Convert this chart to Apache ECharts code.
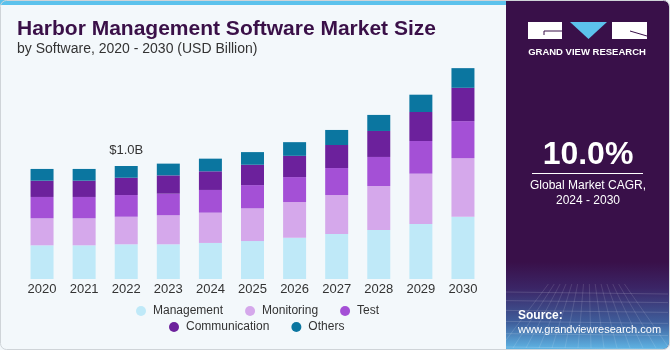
<!DOCTYPE html>
<html>
<head>
<meta charset="utf-8">
<script src="https://cdn.jsdelivr.net/npm/echarts@6/dist/echarts.min.js"></script>
<style>
  html, body { margin: 0; padding: 0; background: #fff; }
  #chart { width: 670px; height: 350px; }
</style>
</head>
<body>
<div id="chart"></div>
<script>
// values, USD billion
const years = ['2020', '2021', '2022', '2023', '2024', '2025', '2026', '2027', '2028', '2029', '2030'];
const management = [0.298, 0.298, 0.307, 0.307, 0.319, 0.336, 0.365, 0.398, 0.434, 0.487, 0.551];
const monitoring = [0.239, 0.239, 0.244, 0.257, 0.268, 0.289, 0.316, 0.345, 0.389, 0.445, 0.519];
const test = [0.189, 0.189, 0.192, 0.191, 0.201, 0.206, 0.221, 0.239, 0.257, 0.289, 0.327];
const communication = [0.144, 0.144, 0.153, 0.162, 0.165, 0.180, 0.188, 0.204, 0.230, 0.257, 0.295];
const others = [0.104, 0.104, 0.104, 0.104, 0.112, 0.112, 0.121, 0.133, 0.142, 0.153, 0.174];
const labelYear = '2022';

const FONT = '"Liberation Sans", Arial, sans-serif';
const panelBg = '#391049';

const myChart = echarts.init(document.getElementById('chart'));

const total = (i) => management[i] + monitoring[i] + test[i] + communication[i] + others[i];

const othersData = others.map((v, i) => {
  if (years[i] !== labelYear) return v;
  return {
    value: v,
    label: {
      show: true,
      position: 'top',
      distance: 9,
      formatter: () => '$' + total(i).toFixed(1) + 'B',
      color: '#333',
      fontSize: 13,
      fontFamily: FONT,
    },
  };
});

const makeSeries = (name, data, color) => ({
  name,
  type: 'bar',
  stack: 'total',
  data,
  barWidth: 23,
  itemStyle: { color },
});

// bottom texture of the side panel
const textureLines = [];
for (let k = 0; k < 7; k++) {
  const y = 292 + k * 8 + k * k * 0.6;
  textureLines.push({
    type: 'line',
    shape: { x1: 506, y1: y, x2: 668, y2: y + 2 },
    style: { stroke: 'rgba(255,255,255,0.14)', lineWidth: 1 },
    z: 5,
  });
}
for (let k = 0; k < 14; k++) {
  const x = 500 + k * 13;
  textureLines.push({
    type: 'line',
    shape: { x1: 588 + (x - 588) * 0.45, y1: 284, x2: x, y2: 348 },
    style: { stroke: 'rgba(255,255,255,0.12)', lineWidth: 1 },
    z: 5,
  });
}

const option = {
  backgroundColor: '#f3f8fb',
  title: {
    text: 'Harbor Management Software Market Size',
    subtext: 'by Software, 2020 - 2030 (USD Billion)',
    left: 17,
    top: 19,
    padding: 0,
    itemGap: 2,
    textStyle: { fontFamily: FONT, fontSize: 21, fontWeight: 'bold', color: '#3a1048' },
    subtextStyle: { fontFamily: FONT, fontSize: 14, color: '#333' },
  },
  legend: [
    {
      data: ['Management', 'Monitoring', 'Test'],
      left: 136,
      top: 305,
      padding: 0,
      icon: 'circle',
      itemWidth: 10,
      itemHeight: 10,
      itemGap: 22,
      textStyle: { fontFamily: FONT, fontSize: 12, color: '#333', padding: [0, 0, 0, 2] },
    },
    {
      data: ['Communication', 'Others'],
      left: 169,
      top: 321,
      padding: 0,
      icon: 'circle',
      itemWidth: 10,
      itemHeight: 10,
      itemGap: 22,
      textStyle: { fontFamily: FONT, fontSize: 12, color: '#333', padding: [0, 0, 0, 2] },
    },
  ],
  grid: { left: 21, right: 186, top: 53, bottom: 71 },
  xAxis: {
    type: 'category',
    data: years,
    axisLine: { show: false },
    axisTick: { show: false },
    axisLabel: { color: '#333', fontSize: 13, fontFamily: FONT, margin: 4 },
  },
  yAxis: {
    type: 'value',
    min: 0,
    max: 2,
    show: false,
    splitLine: { show: false },
  },
  series: [
    makeSeries('Management', management, '#bfe9f8'),
    makeSeries('Monitoring', monitoring, '#d5a8eb'),
    makeSeries('Test', test, '#a450d6'),
    makeSeries('Communication', communication, '#6c219c'),
    makeSeries('Others', othersData, '#0b76a0'),
  ],
  graphic: [
    // top accent stripe
    { type: 'rect', shape: { x: 0, y: 0, width: 506, height: 5 }, style: { fill: '#5cc2ec' }, z: 4 },
    // side panel
    { type: 'rect', shape: { x: 506, y: 0, width: 163, height: 349, r: [0, 6, 6, 0] }, style: { fill: panelBg }, z: 4 },
    {
      type: 'rect',
      shape: { x: 506, y: 262, width: 163, height: 87, r: [0, 0, 6, 0] },
      style: {
        fill: new echarts.graphic.LinearGradient(0, 0, 0, 1, [
          { offset: 0, color: panelBg },
          { offset: 0.3, color: '#3b2566' },
          { offset: 0.7, color: '#3f5f9c' },
          { offset: 1, color: '#5fb4e4' },
        ]),
      },
      z: 4,
    },
    ...textureLines,
    // logo
    { type: 'rect', shape: { x: 528, y: 22, width: 34, height: 17 }, style: { fill: '#fff' }, z: 6 },
    { type: 'polyline', shape: { points: [[562, 31], [544, 31], [544, 35]] }, style: { stroke: panelBg, lineWidth: 1, fill: null }, z: 7 },
    { type: 'polygon', shape: { points: [[570, 22], [607, 22], [588.5, 39]] }, style: { fill: '#5cc2ec' }, z: 6 },
    { type: 'rect', shape: { x: 612, y: 22, width: 35, height: 17 }, style: { fill: '#fff' }, z: 6 },
    { type: 'line', shape: { x1: 630, y1: 31, x2: 647, y2: 36 }, style: { stroke: panelBg, lineWidth: 1 }, z: 7 },
    {
      type: 'text', x: 587, y: 52, z: 6,
      style: { text: 'GRAND VIEW RESEARCH', fill: '#fff', font: 'bold 9.5px ' + FONT, align: 'center', verticalAlign: 'middle' },
    },
    // CAGR block
    {
      type: 'text', x: 588, y: 155, z: 6,
      style: { text: '10.0%', fill: '#fff', font: 'bold 32px ' + FONT, align: 'center', verticalAlign: 'middle' },
    },
    { type: 'line', shape: { x1: 532, y1: 173.5, x2: 643, y2: 173.5 }, style: { stroke: '#fff', lineWidth: 1 }, z: 6 },
    {
      type: 'text', x: 588, y: 186, z: 6,
      style: { text: 'Global Market CAGR,', fill: '#fff', font: '12px ' + FONT, align: 'center', verticalAlign: 'middle' },
    },
    {
      type: 'text', x: 588, y: 201, z: 6,
      style: { text: '2024 - 2030', fill: '#fff', font: '12px ' + FONT, align: 'center', verticalAlign: 'middle' },
    },
    {
      type: 'text', x: 518, y: 316, z: 6,
      style: { text: 'Source:', fill: '#fff', font: 'bold 12px ' + FONT, verticalAlign: 'middle' },
    },
    {
      type: 'text', x: 518, y: 330, z: 6,
      style: { text: 'www.grandviewresearch.com', fill: '#fff', font: '11px ' + FONT, verticalAlign: 'middle' },
    },
    // outer frame
    { type: 'rect', shape: { x: 0.5, y: 0.5, width: 669, height: 349, r: 6 }, style: { fill: null, stroke: '#cfd4d8', lineWidth: 1 }, z: 8 },
  ],
};

myChart.setOption(option);
window.addEventListener('resize', () => myChart.resize());
</script>
</body>
</html>
